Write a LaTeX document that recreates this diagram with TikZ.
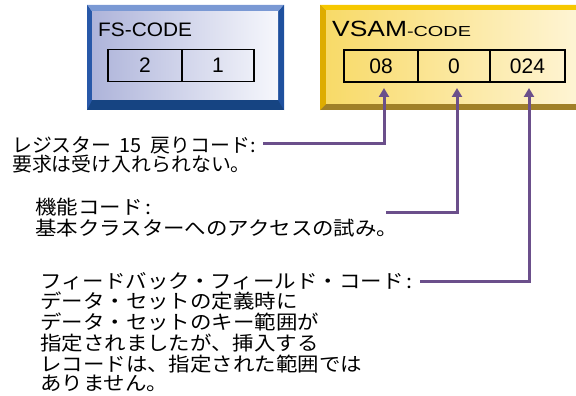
\documentclass[tikz,border=0pt]{standalone}
\usepackage{fontspec}
\setmainfont{Liberation Sans}
\newfontfamily\jp[FakeStretch=1.02]{Noto Sans CJK JP}
\newfontfamily\jpwide[FakeStretch=1.1]{Noto Sans CJK JP}
\newfontfamily\fshead[FakeStretch=1.07]{Liberation Sans}
\newfontfamily\vshead[FakeStretch=1.2]{Liberation Sans}
\newfontfamily\vssmall[FakeStretch=1.37]{Liberation Sans}
\usetikzlibrary{arrows.meta}

\definecolor{pointer}{RGB}{107,79,139}
\definecolor{fsTop}{RGB}{122,153,212}
\definecolor{fsSide}{RGB}{40,88,168}
\definecolor{fsRight}{RGB}{30,80,158}
\definecolor{fsBottom}{RGB}{22,68,130}
\definecolor{fsInL}{RGB}{174,180,218}
\definecolor{fsInR}{RGB}{246,247,252}
\definecolor{vsTop}{RGB}{246,200,0}
\definecolor{vsSide}{RGB}{222,172,0}
\definecolor{vsBottom}{RGB}{160,128,40}
\definecolor{vsInL}{RGB}{248,218,104}
\definecolor{vsInR}{RGB}{255,247,222}

\tikzset{
  cell/.style={draw=black, line width=1.6pt, rectangle, inner sep=0pt,
    minimum height=32pt, font=\fontsize{21}{23}\selectfont},
  jtext/.style={anchor=base west, inner sep=0pt, font=\jp\fontsize{19.5}{21}\selectfont},
  jwide/.style={anchor=base west, inner sep=0pt, font=\jpwide\fontsize{19.5}{21}\selectfont},
  heading/.style={anchor=base west, inner sep=0pt},
  pointerline/.style={draw=pointer, line width=3pt,
    -{Triangle[width=10pt,length=9pt]}}
}

\begin{document}
\begin{tikzpicture}[x=1pt,y=-1pt]
\useasboundingbox (0,0) rectangle (576,396);

% FS-CODE panel: bevelled blue frame around a shaded face
\fill[fsBottom] (87,5) rectangle (284,110);
\fill[fsTop] (87,5) -- (284,5) -- (278,12) -- (92,12) -- cycle;
\fill[fsSide] (87,5) -- (92,12) -- (92,100) -- (87,110) -- cycle;
\fill[fsRight] (284,5) -- (278,12) -- (278,100) -- (284,110) -- cycle;
\shade[left color=fsInL, right color=fsInR] (92,12) rectangle (278,100);
\node[heading, font=\fshead\fontsize{19.5}{22}\selectfont] (fstitle) at (98,36.5) {FS-CODE};
\node[cell, minimum width=74pt] (fs2) at (145,65.5) {2};
\node[cell, minimum width=72pt] (fs1) at (218,65.5) {1};

% VSAM-CODE panel: bevelled gold frame, running off the right edge
\fill[vsBottom] (320,5) rectangle (600,110);
\fill[vsTop] (320,5) -- (600,5) -- (600,11) -- (326,11) -- cycle;
\fill[vsSide] (320,5) -- (326,11) -- (326,104) -- (320,110) -- cycle;
\shade[left color=vsInL, right color=vsInR] (326,11) rectangle (600,104);
\node[heading] (vstitle) at (332,36.7)
  {\vshead\fontsize{22}{24}\selectfont VSAM\vssmall\fontsize{14.5}{16}\selectfont -CODE};
\node[cell, minimum width=74pt] (v08) at (381,66) {08};
\node[cell, minimum width=72pt] (v0) at (454,66) {0};
\node[cell, minimum width=75pt] (v024) at (527.5,66) {024};

% arrow tips just below the VSAM fields
\coordinate (t08) at (384,88);
\coordinate (t0) at (457,88);
\coordinate (t024) at (529,88);

% explanatory texts
\node[jtext] (ra) at (12,152) {レジスター\hspace{8pt}15\hspace{9pt}戻りコード:};
\node[jtext] (rb) at (12,171) {要求は受け入れられない。};

\node[jwide] (fa) at (35,214) {機能コード\hspace{3pt}:};
\node[jwide] (fb) at (35,235) {基本クラスターへのアクセスの試み。};

\node[jwide] (ka) at (40,288.5) {フィードバック・フィールド・コード\hspace{3pt}:};
\node[jwide] (kb) at (40,308.5) {データ・セットの定義時に};
\node[jwide] (kc) at (40,329.5) {データ・セットのキー範囲が};
\node[jwide] (kd) at (40,350) {指定されましたが、挿入する};
\node[jwide] (ke) at (40,371) {レコードは、指定された範囲では};
\node[jwide] (kf) at (40,390.5) {ありません。};

% connectors from each explanation up to its field
\coordinate (sa) at (263,143);
\coordinate (sf) at (386,212);
\coordinate (sk) at (420,281);
\draw[pointerline] (sa) -| (t08);
\draw[pointerline] (sf) -| (t0);
\draw[pointerline] (sk) -| (t024);
\end{tikzpicture}
\end{document}
